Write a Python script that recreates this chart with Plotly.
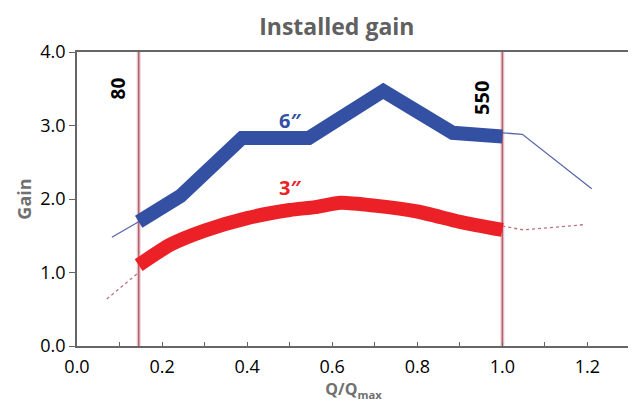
import plotly.graph_objects as go

# 6" series (thick, within operating range)
six_x = [0.145, 0.243, 0.388, 0.545, 0.72, 0.883, 1.0]
six_y = [1.69, 2.04, 2.83, 2.83, 3.47, 2.90, 2.85]
# 6" extrapolated (thin)
six_left_x = [0.082, 0.145]
six_left_y = [1.48, 1.69]
six_right_x = [1.0, 1.047, 1.21]
six_right_y = [2.90, 2.88, 2.14]

# 3" series (thick)
three_x = [0.145, 0.22, 0.30, 0.40, 0.50, 0.56, 0.62, 0.70, 0.80, 0.90, 1.0]
three_y = [1.10, 1.38, 1.57, 1.74, 1.85, 1.89, 1.95, 1.91, 1.83, 1.69, 1.58]
# 3" extrapolated (dashed)
three_left_x = [0.07, 0.145]
three_left_y = [0.64, 1.00]
three_right_x = [1.0, 1.05, 1.19]
three_right_y = [1.63, 1.58, 1.65]

# Operating limits
limit_x = [0.145, 1.0]
limit_labels = ["80", "550"]

series_labels = ["6\u2033", "3\u2033"]

BLUE = "#3350a3"
RED = "#ec2027"
LIMIT = "#b5636e"
FONT = "Open Sans"

fig = go.Figure()

# limit lines (halo + line)
for lx in limit_x:
    fig.add_trace(go.Scatter(x=[lx, lx], y=[0, 4], mode="lines",
                             line=dict(color="rgba(220,160,170,0.5)", width=4),
                             hoverinfo="skip", showlegend=False))
    fig.add_trace(go.Scatter(x=[lx, lx], y=[0, 4], mode="lines",
                             line=dict(color=LIMIT, width=1.6),
                             hoverinfo="skip", showlegend=False))

fig.add_trace(go.Scatter(x=six_left_x, y=six_left_y, mode="lines",
                         line=dict(color="#5a66a8", width=1.3), showlegend=False))
fig.add_trace(go.Scatter(x=six_right_x, y=six_right_y, mode="lines",
                         line=dict(color="#5a66a8", width=1.3), showlegend=False))
fig.add_trace(go.Scatter(x=three_left_x, y=three_left_y, mode="lines",
                         line=dict(color="#c07078", width=1.3, dash="dot"), showlegend=False))
fig.add_trace(go.Scatter(x=three_right_x, y=three_right_y, mode="lines",
                         line=dict(color="#c07078", width=1.3, dash="dot"), showlegend=False))

fig.add_trace(go.Scatter(x=six_x, y=six_y, mode="lines",
                         line=dict(color=BLUE, width=14), showlegend=False))
fig.add_trace(go.Scatter(x=three_x, y=three_y, mode="lines",
                         line=dict(color=RED, width=14, shape="spline", smoothing=0.6),
                         showlegend=False))

# series labels
fig.add_annotation(x=0.5, y=3.07, text="<b>" + series_labels[0] + "</b>", showarrow=False,
                   font=dict(family=FONT, size=20, color=BLUE))
fig.add_annotation(x=0.5, y=2.15, text="<b>" + series_labels[1] + "</b>", showarrow=False,
                   font=dict(family=FONT, size=20, color=RED))

# limit labels
fig.add_annotation(x=limit_x[0], y=3.50, xshift=-21, text="<b>" + limit_labels[0] + "</b>",
                   showarrow=False, textangle=-90,
                   font=dict(family=FONT, size=19, color="black"))
fig.add_annotation(x=limit_x[1], y=3.38, xshift=-21, text="<b>" + limit_labels[1] + "</b>",
                   showarrow=False, textangle=-90,
                   font=dict(family=FONT, size=20, color="black"))

fig.update_layout(
    width=636, height=404,
    margin=dict(l=69, r=12, t=44, b=66),
    plot_bgcolor="white", paper_bgcolor="white",
    title=dict(text="<b>Installed gain</b>", x=0.517, xanchor="center", y=0.953, yanchor="middle",
               font=dict(family=FONT, size=23, color="#606060")),
    font=dict(family=FONT, size=16, color="black"),
    xaxis=dict(range=[0, 1.3], dtick=0.2, tick0=0, tickformat=".1f",
               ticks="inside", ticklen=4, tickcolor="#666", tickwidth=1,
               minor=dict(ticks="inside", dtick=0.1, ticklen=4, tickcolor="#666"),
               showgrid=False, zeroline=False, showline=True, linecolor="#666",
               linewidth=1.5, mirror=True, ticklabelstandoff=4,
               tickfont=dict(family=FONT, size=18, color="black"),
               title=dict(text="<b>Q/Q<sub>max</sub></b>", standoff=0,
                          font=dict(family=FONT, size=16, color="#707070"))),
    yaxis=dict(range=[0, 4], dtick=1, tick0=0, tickformat=".1f",
               ticks="outside", ticklen=6, tickcolor="#666",
               showgrid=False, zeroline=False, showline=True, linecolor="#666",
               linewidth=1.5, mirror=True,
               tickfont=dict(family=FONT, size=18, color="black"),
               title=dict(text="<b>Gain</b>", standoff=4,
                          font=dict(family=FONT, size=18, color="#707070"))),
)

fig.write_html("out.html")
